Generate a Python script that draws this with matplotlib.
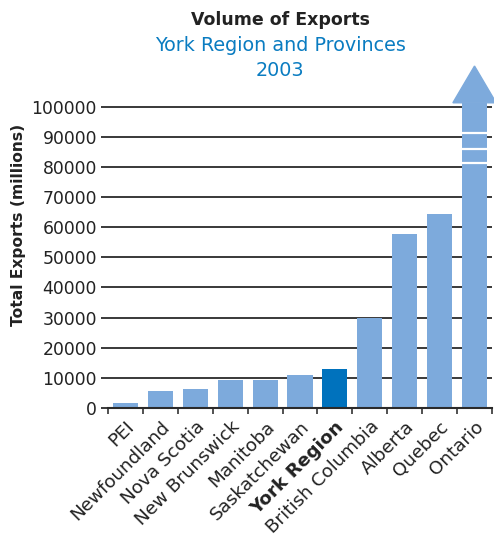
import numpy as np
import matplotlib
matplotlib.use("Agg")
from matplotlib import pyplot as plt
from matplotlib.patches import Polygon

# data (millions)
regions = ["PEI", "Newfoundland", "Nova Scotia", "New Brunswick", "Manitoba",
           "Saskatchewan", "York Region", "British Columbia", "Alberta",
           "Quebec", "Ontario"]
exports = [1800, 5700, 6300, 9300, 9300, 11000, 13000, 30000, 57700, 64300, 180000]
highlight = "York Region"
y_ticks = list(range(0, 100001, 10000))

light = "#7DAADC"
dark = "#0072BD"
ymax = 113500   # axis ceiling, leaves room for the arrow head
cap = 101300    # where the off-scale bar turns into an arrow

plt.rcParams['font.family'] = ['DejaVu Sans']

fig = plt.figure(figsize=(4.94, 5.36), dpi=100)
ax = fig.add_axes([0.2186, 0.2388, 0.7773, 0.638])

x = np.arange(len(regions))
colors = [dark if r == highlight else light for r in regions]
heights = [min(v, cap) for v in exports]
ax.bar(x, heights, width=0.72, color=colors, zorder=3)

# off-scale bars get an arrow head and break marks
for i, v in enumerate(exports):
    if v > cap:
        head = Polygon([[i - 0.62, cap], [i, ymax], [i + 0.62, cap]],
                       closed=True, color=light, zorder=3, clip_on=False)
        ax.add_patch(head)
        for yb in [81400, 86000, 91200]:
            ax.plot([i - 0.36, i + 0.36], [yb, yb], color="white", lw=1.6, zorder=4)

ax.set_xlim(-0.5, len(regions) - 0.5)
ax.set_ylim(0, ymax)
ax.set_yticks(y_ticks)
ax.set_yticklabels([str(t) for t in y_ticks], fontsize=12.4, color="#222222")
ax.grid(axis="y", color="#2a2a2a", lw=1.3, zorder=1)
ax.tick_params(axis="y", length=5, width=1.3, color="#2a2a2a", pad=3)

ax.set_xticks(x)
ax.set_xticklabels(regions, rotation=45, ha="right", rotation_mode="anchor",
                   fontsize=13.2, color="#222222")
for lab in ax.get_xticklabels():
    if lab.get_text() == highlight:
        lab.set_fontweight("bold")
ax.set_xticks(np.arange(len(regions) + 1) - 0.5, minor=True)
ax.tick_params(axis="x", which="major", length=0, pad=7)
ax.tick_params(axis="x", which="minor", length=4, width=1.2, color="#333333")

for s in ["top", "right", "left"]:
    ax.spines[s].set_visible(False)
ax.spines["bottom"].set_color("#2a2a2a")
ax.spines["bottom"].set_linewidth(1.5)
ax.spines["bottom"].set_zorder(5)

fig.text(0.037, 0.58, "Total Exports (millions)", rotation=90, ha="center",
         va="center", fontsize=11.2, fontweight="bold", color="#222222")

fig.text(0.567, 0.962, "Volume of Exports", ha="center", va="center",
         fontsize=12.5, fontweight="bold", color="#222222")
fig.text(0.567, 0.916, "York Region and Provinces", ha="center", va="center",
         fontsize=13.8, color="#0A7CC1")
fig.text(0.567, 0.869, "2003", ha="center", va="center",
         fontsize=13.8, color="#0A7CC1")

fig.savefig("out.png", dpi=100)
